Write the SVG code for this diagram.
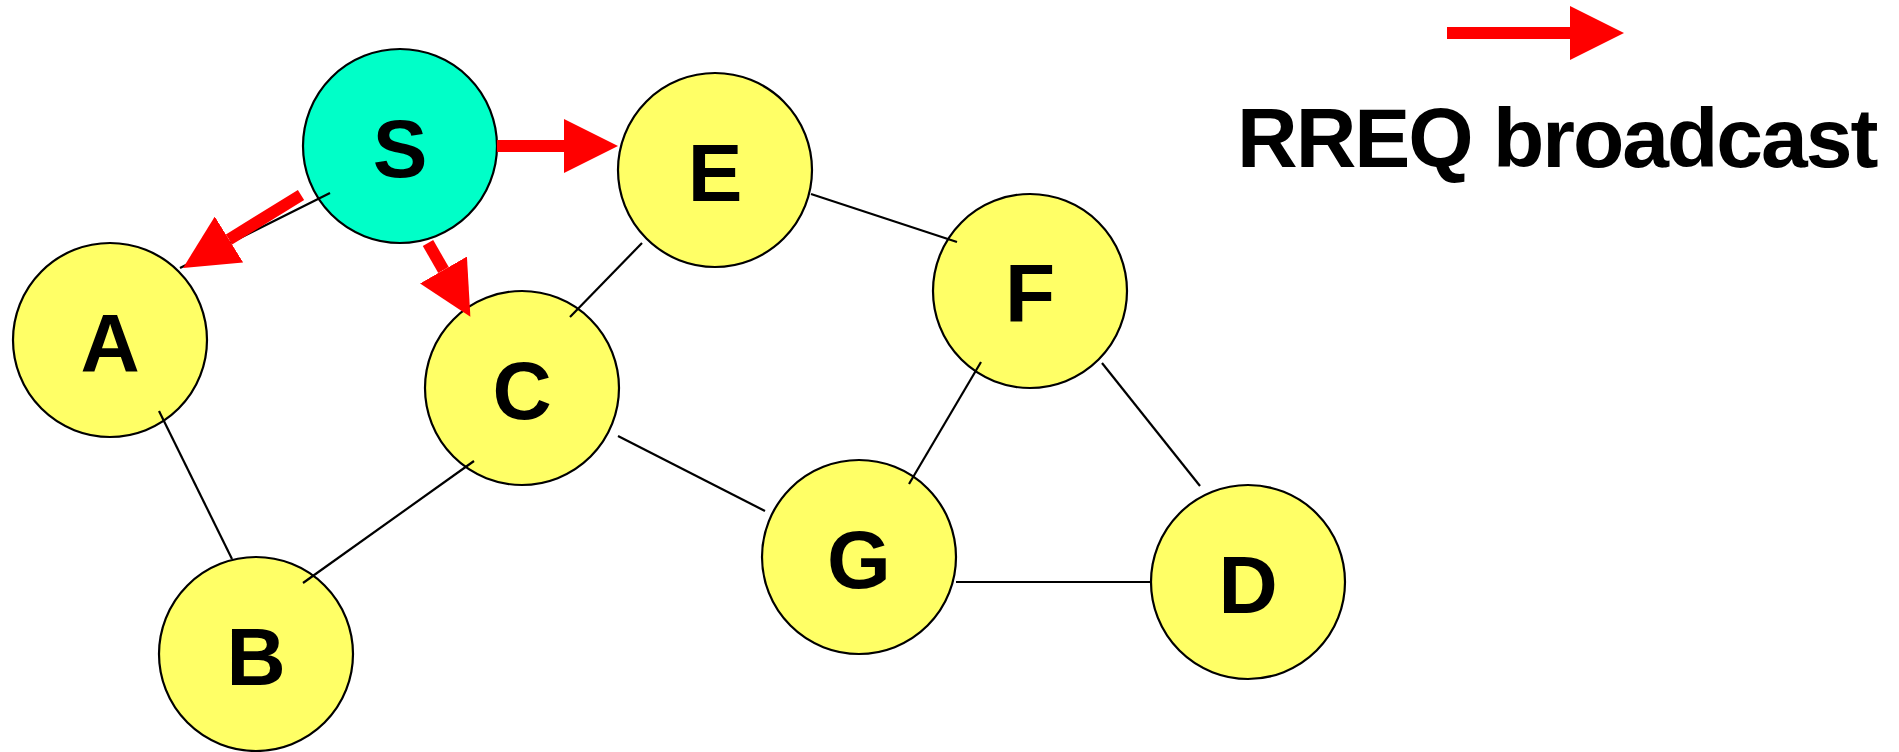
<svg xmlns="http://www.w3.org/2000/svg" width="1899" height="752" viewBox="0 0 1899 752">
<style>
.node{stroke:#000;stroke-width:2.2}
.y{fill:#FFFF66}
.s{fill:#00FFC8}
.lbl{font-family:"Liberation Sans",Arial,sans-serif;font-weight:bold;font-size:82px;text-anchor:middle;fill:#000}
.link{stroke:#000;stroke-width:2.2;fill:none}
.rreq{stroke:#FF0000;stroke-width:12;fill:none;marker-end:url(#ah)}
.legend{font-family:"Liberation Sans",Arial,sans-serif;font-weight:bold;font-size:84px;letter-spacing:-2px;fill:#000}
</style>
<defs>
<marker id="ah" viewBox="0 0 54 54" markerWidth="54" markerHeight="54" markerUnits="userSpaceOnUse" refX="0" refY="27" orient="auto">
<path d="M0,0 L54,27 L0,54 Z" fill="#FF0000"/>
</marker>
</defs>
<rect width="1899" height="752" fill="#fff"/>
<g id="S"><circle class="node s" cx="400" cy="146" r="97"/><text class="lbl" x="400" y="177">S</text></g>
<g id="E"><circle class="node y" cx="715" cy="170" r="97"/><text class="lbl" x="715" y="201">E</text></g>
<g id="A"><circle class="node y" cx="110" cy="340" r="97"/><text class="lbl" x="110" y="371">A</text></g>
<g id="C"><circle class="node y" cx="522" cy="388" r="97"/><text class="lbl" x="522" y="419">C</text></g>
<g id="F"><circle class="node y" cx="1030" cy="291" r="97"/><text class="lbl" x="1030" y="322">F</text></g>
<g id="G"><circle class="node y" cx="859" cy="557" r="97"/><text class="lbl" x="859" y="588">G</text></g>
<g id="D"><circle class="node y" cx="1248" cy="582" r="97"/><text class="lbl" x="1248" y="613">D</text></g>
<g id="B"><circle class="node y" cx="256" cy="654" r="97"/><text class="lbl" x="256" y="685">B</text></g>
<g id="connectors">
<line class="link" x1="330" y1="193" x2="180" y2="268"/>
<line class="link" x1="159" y1="411" x2="232" y2="559"/>
<line class="link" x1="474" y1="461" x2="303" y2="583"/>
<line class="link" x1="618" y1="436" x2="765" y2="511"/>
<line class="link" x1="642" y1="243" x2="570" y2="317"/>
<line class="link" x1="811" y1="194" x2="957" y2="242"/>
<line class="link" x1="909" y1="484" x2="981" y2="362"/>
<line class="link" x1="1102" y1="363" x2="1200" y2="486"/>
<line class="link" x1="956" y1="582" x2="1151" y2="582"/>
<line class="rreq" x1="497" y1="146" x2="564" y2="146"/>
<line class="rreq" x1="301" y1="195" x2="229" y2="239.5"/>
<line class="rreq" x1="428" y1="243" x2="443.5" y2="270"/>
</g>
<g id="legend">
<line class="rreq" x1="1447" y1="33" x2="1570" y2="33"/>
<text class="legend" x="1237" y="167">RREQ broadcast</text>
</g>
</svg>
